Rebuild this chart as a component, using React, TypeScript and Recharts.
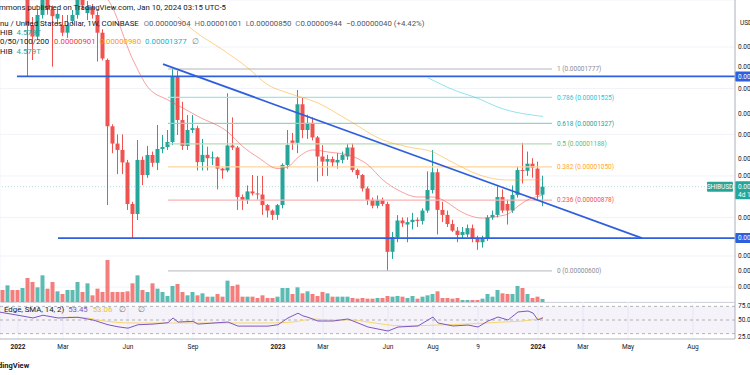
import React from 'react';
import {
  ComposedChart, Bar, Line, XAxis, YAxis, CartesianGrid, ReferenceLine, ReferenceArea,
} from 'recharts';

// ─── Palette / fonts ─────────────────────────────────────────────────────────
const UP = '#26a69a';
const DOWN = '#ef5350';
const BLUE = '#2f5fdc';
const INK = '#131722';
const GRAY = '#787b86';
const FONT = 'Roboto, "Noto Sans", sans-serif';
const LEGEND_SIZE = 7.8;

// ─── Data (weekly SHIB/USD, prices in 1e-8 USD, week 0 = 3 Jan 2022) ──────────
const FIRST_WEEK = -3;

const opens = [
  3500, 3300, 3600, 3300, 2800,
  2950, 2250, 2115, 2376, 2750, 2450, 2330, 2251, 2160, 2300,
  2376, 2700, 2400, 2480, 2376, 2160, 1865, 1306, 1190, 1150,
  1075, 860, 815, 1090, 1005, 1119, 1073, 1156, 1168, 1200,
  1710, 1351, 1175, 1280, 1293, 1077, 1120, 1100, 1105, 1040,
  1030, 1178, 1165, 893, 879, 920, 910, 905, 855, 830,
  811, 855, 1061, 1210, 1195, 1470, 1280, 1330, 1230, 1110,
  1080, 1095, 1075, 1090, 1110, 1165, 1032, 1005, 935, 879,
  852, 879, 860, 665, 719, 787, 770, 780, 790, 785,
  830, 927, 1020, 833, 811, 772, 745, 728, 730, 755,
  716, 700, 716, 800, 811, 893, 860, 830, 903, 1032,
  1028, 1068, 1040, 904,
];
const highs = [
  3700, 3800, 3700, 3400, 3100,
  3000, 2350, 2440, 3400, 2850, 2500, 2450, 2376, 2376, 2440,
  2950, 2750, 2560, 2520, 2420, 2200, 1880, 1320, 1250, 1250,
  1090, 870, 1213, 1110, 1175, 1140, 1315, 1246, 1280, 1777,
  1760, 1490, 1388, 1388, 1310, 1220, 1170, 1140, 1110, 1045,
  1560, 1370, 1175, 905, 950, 1005, 1000, 1000, 860, 835,
  860, 1070, 1280, 1260, 1587, 1520, 1390, 1370, 1240, 1180,
  1120, 1110, 1130, 1140, 1190, 1190, 1040, 1010, 945, 890,
  900, 890, 870, 740, 810, 800, 800, 820, 800, 840,
  1025, 1150, 1040, 870, 830, 790, 760, 760, 770, 770,
  725, 725, 810, 830, 952, 930, 880, 950, 1050, 1195,
  1140, 1100, 1080, 1001,
];
const lows = [
  3100, 3200, 3200, 2700, 2700,
  1705, 1865, 2080, 2330, 2380, 1800, 2250, 2120, 2100, 2260,
  2330, 2450, 2312, 2330, 1850, 1860, 855, 1130, 1010, 1010,
  833, 716, 789, 952, 990, 1050, 1032, 1130, 1150, 1180,
  1246, 1150, 1150, 1260, 1030, 1030, 1030, 1060, 930, 985,
  1020, 1150, 833, 833, 860, 900, 880, 811, 800, 789,
  790, 840, 1040, 1150, 1130, 1225, 1220, 1210, 970, 1000,
  1000, 1050, 1040, 1070, 1090, 1020, 985, 920, 855, 840,
  840, 850, 600, 640, 700, 760, 700, 750, 760, 770,
  820, 910, 730, 780, 760, 740, 700, 715, 720, 700,
  672, 680, 705, 790, 800, 820, 770, 820, 890, 960,
  1000, 990, 880, 850,
];
const closes = [
  3300, 3600, 3300, 2800, 2950,
  2250, 2115, 2376, 2750, 2450, 2360, 2390, 2160, 2251, 2376,
  2700, 2500, 2480, 2380, 2160, 1880, 1306, 1190, 1150, 1075,
  860, 815, 1090, 1005, 1119, 1073, 1156, 1168, 1200, 1710,
  1351, 1175, 1280, 1293, 1077, 1120, 1100, 1105, 1040, 1030,
  1178, 1165, 893, 879, 920, 910, 905, 855, 830, 811,
  855, 1061, 1181, 1195, 1470, 1280, 1330, 1230, 1110, 1080,
  1095, 1075, 1090, 1120, 1165, 1032, 1005, 935, 879, 852,
  879, 860, 665, 719, 787, 775, 780, 790, 785, 830,
  927, 1020, 833, 811, 772, 745, 728, 740, 755, 716,
  700, 716, 800, 811, 893, 830, 830, 903, 1032, 1028,
  1068, 1045, 903, 944,
];
// volume, trillions SHIB
const volumes = [
  18, 25, 18, 18, 21,
  36, 30, 22, 40, 20, 30, 16, 12, 18, 18,
  30, 15, 28, 10, 20, 15, 63, 15, 15, 15,
  16, 28, 40, 18, 15, 28, 20, 15, 9, 24,
  27, 15, 10, 15, 10, 13, 8, 8, 12, 8,
  32, 24, 26, 8, 8, 8, 6, 10, 6, 6,
  8, 21, 21, 12, 22, 13, 16, 12, 9, 15,
  13, 8, 8, 8, 8, 6, 5, 6, 5, 5,
  6, 6, 9, 8, 9, 8, 6, 9, 5, 8,
  10, 12, 16, 6, 6, 5, 6, 3, 3, 3,
  3, 5, 12, 8, 18, 13, 12, 12, 24, 21,
  12, 6, 8, 4.6,
];

// moving averages: [week, price]
const ma20 = [
  [14, 2750], [18, 2575], [23, 1865], [26, 1610], [30, 1504], [33, 1440], [36, 1377],
  [42, 1265], [45, 1170], [48, 1105], [52, 1040], [54, 1050], [56, 1105], [59, 1150],
  [62, 1137], [66, 1119], [70, 1061], [73, 978], [76, 927], [80, 893], [83, 893],
  [86, 865], [88, 833], [93, 797], [96, 805], [98, 815], [100, 850], [102, 880], [105, 901],
];
const ma50 = [
  [32, 2350], [35, 2191], [41, 1968], [46, 1786], [50, 1631], [54, 1562], [60, 1480],
  [66, 1351], [73, 1213], [78, 1169], [83, 1137], [86, 1090], [93, 999], [98, 978], [105, 980],
];
const ma100 = [[82, 1695], [87, 1590], [92, 1517], [96, 1447], [105, 1377]];

// RSI pane: [week, value]
const rsi = [
  [-4, 62], [0, 57], [3, 53], [5, 57], [8, 53], [12, 54], [15, 50], [18, 43], [20, 40],
  [22, 38], [24, 43], [27, 44], [30, 46], [31, 53], [32, 47], [35, 48], [36, 44], [42, 47],
  [44, 41], [50, 41], [52, 43], [54, 53], [56, 60], [57, 56], [58, 54], [60, 48.5],
  [63, 48.5], [66, 51.5], [68, 45.6], [70, 39.7], [74, 33.8], [76, 39.7], [80, 41.2],
  [83, 54.4], [84, 45.6], [87, 41.2], [90, 42.6], [92, 39.7], [94, 48.5], [96, 54.4],
  [98, 50], [100, 61.8], [102, 63.2], [103, 60.3], [104, 50], [105, 53.45],
];
const rsiSma = [
  [10, 54.4], [14, 52.9], [16, 50], [23, 45.6], [30, 45.6], [36, 45.6], [43, 45.6],
  [50, 45.6], [55, 47], [59, 51.5], [63, 50], [67, 50], [70, 47], [77, 41.2], [84, 42.6],
  [90, 44.1], [97, 47], [101, 48.5], [105, 53.06],
];

// fibonacci retracement
const fibLevels = ['1', '0.786', '0.618', '0.5', '0.382', '0.236', '0'];
const fibPrices = [1777, 1525, 1327, 1188, 1050, 878, 600];
const fibLine = ['#b2b5be', '#9fe3ec', '#8fd3c9', '#b5dcb6', '#ffd59a', '#f7b3b3', '#c3c5cb'];
const fibText = ['#8a8d96', '#26c6da', '#26a69a', '#66bb6a', '#ffa726', '#ef5350', '#8a8d96'];

// time axis
const xTicks = [0, 9, 22, 35, 52, 61, 74, 83, 92, 104, 113, 122, 135];
const xLabels = ['2022', 'Mar', 'Jun', 'Sep', '2023', 'Mar', 'Jun', 'Aug', '9', '2024', 'Mar', 'May', 'Aug'];
const priceTicks = [2000, 1800, 1600, 1400, 1250, 1100, 1000, 800, 650, 600, 550];

const X_DOMAIN: [number, number] = [-3.6, 143.4];
const P_DOMAIN: [number, number] = [507.7, 2575];
const R_DOMAIN: [number, number] = [22.06, 76.47];

const rows = opens.map((o, i) => ({
  w: FIRST_WEEK + i,
  o, h: highs[i], l: lows[i], c: closes[i],
  range: [lows[i], highs[i]],
  vol: volumes[i],
}));
const toPts = (arr: number[][]) => arr.map(([w, v]) => ({ w, v }));

const fmt = (v: number) => (v / 1e8).toFixed(8);

// ─── Shapes ──────────────────────────────────────────────────────────────────

function Candle(props: any) {
  const { x, y, width, height, payload } = props;
  if (!payload || height == null || isNaN(y)) return null;
  const { o, h, l, c } = payload;
  const span = Math.log(h) - Math.log(l);
  const toY = (v: number) => (span > 0 ? y + ((Math.log(h) - Math.log(v)) / span) * height : y);
  const color = c >= o ? UP : DOWN;
  const top = toY(Math.max(o, c));
  const bot = toY(Math.min(o, c));
  const cx = x + width / 2;
  return (
    <g>
      <line x1={cx} x2={cx} y1={y} y2={y + height} stroke={color} strokeWidth={1} />
      <rect x={x} y={top} width={width} height={Math.max(1, bot - top)} fill={color} />
    </g>
  );
}

function VolumeBar(props: any) {
  const { x, y, width, height, payload } = props;
  if (!payload || !height) return null;
  return <rect x={x} y={y} width={width} height={height} fill={payload.c >= payload.o ? UP : DOWN} fillOpacity={0.75} />;
}

function AxisTag({ viewBox, text, bg }: any) {
  if (!viewBox) return null;
  const x = viewBox.x + viewBox.width;
  const y = viewBox.y + viewBox.height / 2;
  return (
    <g>
      <rect x={x} y={y - 5} width={48} height={10} fill={bg} rx={1} />
      <text x={x + 3} y={y} dy="0.35em" fontSize={6.5} fill="#fff" fontFamily={FONT}>{text}</text>
    </g>
  );
}

function PriceTag({ viewBox }: any) {
  if (!viewBox) return null;
  const x = viewBox.x + viewBox.width;
  const y = viewBox.y;
  return (
    <g fontFamily={FONT} fontSize={6.5}>
      <rect x={x - 28} y={y - 5} width={26} height={10} fill={UP} rx={1} />
      <text x={x - 15} y={y} dy="0.35em" textAnchor="middle" fill="#fff">SHIBUSD</text>
      <rect x={x} y={y - 5.5} width={48} height={18} fill={UP} rx={1} />
      <text x={x + 3} y={y} dy="0.35em" fill="#fff">{fmt(944)}</text>
      <text x={x + 3} y={y + 8} dy="0.35em" fill="#fff">4d 18h</text>
    </g>
  );
}

function TimeTick(props: any) {
  const { x, y, payload } = props;
  const i = xTicks.indexOf(payload.value);
  const label = xLabels[i] ?? '';
  const year = /^\d{4}$/.test(label);
  return (
    <text x={x} y={y} dy={5} textAnchor="middle" fontSize={6.5} fill={INK}
      fontWeight={year ? 700 : 400} fontFamily={FONT}>{label}</text>
  );
}

// ─── Overlay text ────────────────────────────────────────────────────────────

function Txt({ x, y, color = INK, size = LEGEND_SIZE, bold = false, children }: any) {
  return (
    <div style={{
      position: 'absolute', left: x, top: y - size * 0.6, fontSize: size, lineHeight: 1.2,
      color, fontWeight: bold ? 700 : 400, whiteSpace: 'nowrap', fontFamily: FONT,
    }}>{children}</div>
  );
}

const sp = (ml: number, color: string) => ({ marginLeft: ml, color });

// ─── App ─────────────────────────────────────────────────────────────────────

export default function App() {
  return (
    <div style={{ position: 'absolute', left: 0, top: 0, width: 750, height: 375, overflow: 'hidden', background: '#fff' }}>
      {/* price + volume pane */}
      <div style={{ position: 'absolute', left: 0, top: 0 }}>
        <ComposedChart width={800} height={302} data={rows} margin={{ top: 0, right: 0, bottom: 0, left: 0 }}>
          <CartesianGrid xAxisId="x" yAxisId="p" stroke="#f0f3fa" />
          <XAxis xAxisId="x" dataKey="w" type="number" domain={X_DOMAIN} allowDataOverflow ticks={xTicks}
            height={0} tick={false} tickLine={false} axisLine={false} />
          <XAxis xAxisId="xv" dataKey="w" type="number" domain={X_DOMAIN} allowDataOverflow hide />
          <YAxis yAxisId="p" orientation="right" scale="log" domain={P_DOMAIN} allowDataOverflow
            ticks={priceTicks} tickFormatter={fmt} width={65} tickSize={0} tickMargin={3}
            tick={{ fontSize: 6.5, fill: INK, fontFamily: FONT }} tickLine={false} axisLine={{ stroke: '#b2b5be' }} />
          <YAxis yAxisId="v" domain={[0, 453]} allowDataOverflow hide />

          <Bar xAxisId="xv" yAxisId="v" dataKey="vol" barSize={4} shape={<VolumeBar />} isAnimationActive={false} />

          {fibPrices.map((p, i) => (
            <ReferenceLine key={p} xAxisId="x" yAxisId="p" ifOverflow="visible"
              segment={[{ x: 30, y: p }, { x: 106.8, y: p }]} stroke={fibLine[i]} strokeWidth={1.2}
              label={{ value: `${fibLevels[i]} (${fmt(p)})`, position: 'right', offset: 5, fill: fibText[i], fontSize: 6.5, fontFamily: FONT }} />
          ))}

          <ReferenceLine xAxisId="x" yAxisId="p" y={944} stroke={UP} strokeOpacity={0.35} strokeDasharray="1 2"
            label={<PriceTag />} />
          <ReferenceLine xAxisId="x" yAxisId="p" ifOverflow="visible"
            segment={[{ x: -0.2, y: 1707 }, { x: 143.4, y: 1707 }]} stroke={BLUE} strokeWidth={1.8}
            label={<AxisTag text={fmt(1707)} bg={BLUE} />} />
          <ReferenceLine xAxisId="x" yAxisId="p" ifOverflow="visible"
            segment={[{ x: 8, y: 716 }, { x: 143.4, y: 716 }]} stroke={BLUE} strokeWidth={1.8}
            label={<AxisTag text={fmt(716)} bg={BLUE} />} />
          <ReferenceLine xAxisId="x" yAxisId="p" ifOverflow="visible"
            segment={[{ x: 29, y: 1825 }, { x: 124.8, y: 716 }]} stroke={BLUE} strokeWidth={1.8} />

          <Line xAxisId="x" yAxisId="p" data={toPts(ma100)} dataKey="v" type="monotone" stroke="#4dd0e1"
            strokeOpacity={0.6} strokeWidth={1} dot={false} activeDot={false} isAnimationActive={false} />
          <Line xAxisId="x" yAxisId="p" data={toPts(ma50)} dataKey="v" type="monotone" stroke="#ff9800"
            strokeOpacity={0.45} strokeWidth={1} dot={false} activeDot={false} isAnimationActive={false} />
          <Line xAxisId="x" yAxisId="p" data={toPts(ma20)} dataKey="v" type="monotone" stroke="#ef5350"
            strokeOpacity={0.55} strokeWidth={1} dot={false} activeDot={false} isAnimationActive={false} />

          <Bar xAxisId="x" yAxisId="p" dataKey="range" barSize={4} shape={<Candle />} isAnimationActive={false} />
        </ComposedChart>
      </div>

      <div style={{ position: 'absolute', left: 0, top: 302, width: 735, height: 1, background: '#d1d4dc' }} />

      {/* RSI pane */}
      <div style={{ position: 'absolute', left: 0, top: 302 }}>
        <ComposedChart width={800} height={73} data={toPts(rsi)} margin={{ top: 0, right: 0, bottom: 0, left: 0 }}>
          <CartesianGrid xAxisId="x" yAxisId="r" horizontal={false} stroke="#f0f3fa" />
          <ReferenceArea xAxisId="x" yAxisId="r" y1={30} y2={70} fill="#7e57c2" fillOpacity={0.08} />
          {[70, 50, 30].map(v => (
            <ReferenceLine key={v} xAxisId="x" yAxisId="r" y={v} stroke="#9598a1" strokeOpacity={0.7} strokeDasharray="3 3" />
          ))}
          <XAxis xAxisId="x" dataKey="w" type="number" domain={X_DOMAIN} allowDataOverflow ticks={xTicks}
            height={36} tickSize={0} tickMargin={5} tick={<TimeTick />} axisLine={{ stroke: '#b2b5be' }} tickLine={false} />
          <YAxis yAxisId="r" orientation="right" domain={R_DOMAIN} allowDataOverflow ticks={[25, 50, 75]}
            tickFormatter={(v: number) => v.toFixed(2)} width={65} tickSize={0} tickMargin={3}
            tick={{ fontSize: 6.5, fill: INK, fontFamily: FONT }} tickLine={false} axisLine={{ stroke: '#b2b5be' }} />
          <Line xAxisId="x" yAxisId="r" data={toPts(rsiSma)} dataKey="v" type="monotone" stroke="#f5d76e"
            strokeWidth={1} dot={false} activeDot={false} isAnimationActive={false} />
          <Line xAxisId="x" yAxisId="r" dataKey="v" type="linear" stroke="#7e57c2"
            strokeWidth={1} dot={false} activeDot={false} isAnimationActive={false} />
        </ComposedChart>
      </div>

      {/* legends */}
      <Txt x={-1} y={8}>mmons published on TradingView.com, Jan 10, 2024 03:15 UTC-5</Txt>
      <Txt x={0} y={24}>
        <span>nu / United States Dollar, 1W, COINBASE</span>
        <span style={sp(5, GRAY)}>O</span><span style={{ color: '#50535e' }}>0.00000904</span>
        <span style={sp(4, GRAY)}>H</span><span style={{ color: '#50535e' }}>0.00001001</span>
        <span style={sp(4, GRAY)}>L</span><span style={{ color: '#50535e' }}>0.00000850</span>
        <span style={sp(4, GRAY)}>C</span><span style={{ color: '#50535e' }}>0.00000944</span>
        <span style={sp(4, '#50535e')}>−0.00000040 (+4.42%)</span>
      </Txt>
      <Txt x={0} y={33}>HIB<span style={sp(4, UP)}>4.579T</span></Txt>
      <Txt x={0} y={42}>
        0/50/100/200
        <span style={sp(5, '#f23645')}>0.00000901</span>
        <span style={sp(4, '#ff9800')}>0.00000980</span>
        <span style={sp(4, '#00bcd4')}>0.00001377</span>
        <span style={sp(5, GRAY)}>∅</span>
      </Txt>
      <Txt x={0} y={52}>HIB<span style={sp(4, UP)}>4.579T</span></Txt>
      <Txt x={740} y={24} size={6.5}>USD</Txt>
      <Txt x={4} y={310}>
        Edge, SMA, 14, 2)
        <span style={sp(4, '#7e57c2')}>53.45</span>
        <span style={sp(5, '#e6c229')}>53.06</span>
        <span style={sp(7, GRAY)}>∅</span>
        <span style={sp(12, GRAY)}>∅</span>
      </Txt>
      <Txt x={-13} y={365} size={7.5} bold>TradingView</Txt>
    </div>
  );
}
